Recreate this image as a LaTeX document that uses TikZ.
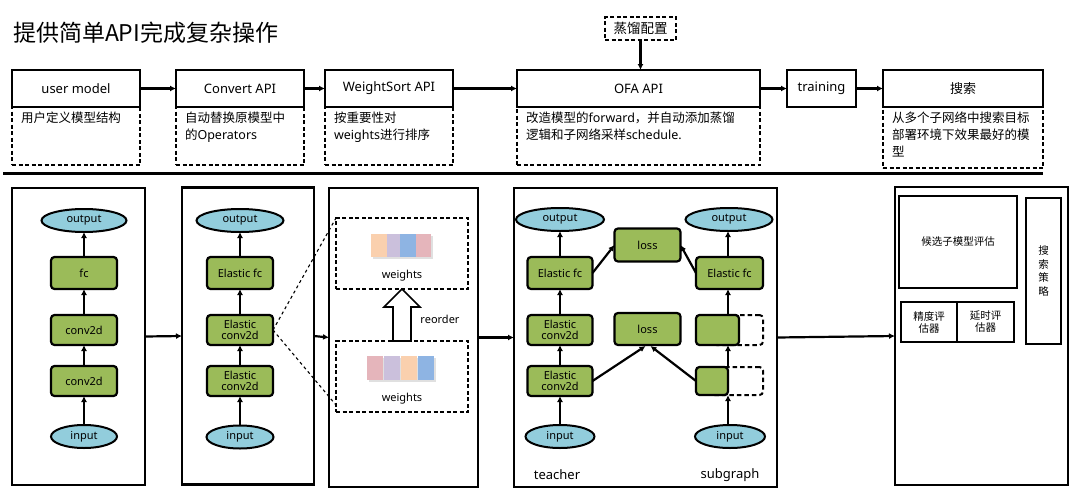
\documentclass[tikz,border=0pt]{standalone}
\usepackage{fontspec}
\setmainfont{Noto Sans}
\newfontfamily\cjk{Noto Sans CJK SC}
\usetikzlibrary{arrows.meta,shapes.geometric,calc}
\definecolor{gfill}{HTML}{9BBB59}
\definecolor{bfill}{HTML}{92CDDC}
\definecolor{sqorange}{HTML}{FAD0AE}
\definecolor{sqpurple}{HTML}{CBC0DC}
\definecolor{sqblue}{HTML}{8EB4E3}
\definecolor{sqpink}{HTML}{E5B5BB}
\begin{document}
\begin{tikzpicture}[x=1pt,y=-1pt,
  every node/.style={inner sep=0pt, outer sep=0pt},
  topbox/.style={draw, line width=2.5pt, fill=white, font=\fontsize{13}{15}\selectfont, minimum height=37pt},
  descbox/.style={draw, line width=1.4pt, dash pattern=on 4pt off 2.5pt},
  desctext/.style={anchor=north west, align=left, font=\fontsize{12.5}{17}\selectfont},
  panel/.style={draw, line width=2.2pt},
  gbox/.style={draw, line width=2.2pt, fill=gfill, rounded corners=3.5pt, font=\fontsize{11}{12}\selectfont, align=center},
  gext/.style={draw, line width=2pt, dash pattern=on 4.5pt off 3pt, rounded corners=3.5pt},
  ell/.style={draw, ellipse, line width=2pt, fill=bfill, font=\fontsize{11}{12}\selectfont, minimum height=23pt},
  arr/.style={-{Latex[length=6pt,width=6pt]}, line width=2.2pt},
  pbox/.style={draw, line width=2.4pt, align=center, font=\fontsize{10.5}{12}\selectfont\cjk},
  lbl/.style={font=\fontsize{13}{15}\selectfont},
  ]
\useasboundingbox (0,0) rectangle (1080,496);

% title
\node[anchor=west, font=\fontsize{23}{25}\selectfont\cjk] (title) at (13,33) {提供简单API完成复杂操作};

% description boxes
\node[descbox, minimum width=128pt, minimum height=58pt] (umd) at (76,136) {};
\node[descbox, minimum width=128pt, minimum height=58pt] (cvd) at (240,136) {};
\node[descbox, minimum width=128pt, minimum height=58pt] (wsd) at (389,136) {};
\node[descbox, minimum width=243pt, minimum height=58pt] (ofad) at (638.5,136) {};
\node[descbox, minimum width=160pt, minimum height=61pt] (ssd) at (963,137.5) {};

\node[desctext] (umt) at (21,112) {\cjk 用户定义模型结构};
\node[desctext] (cvt) at (185,112) {{\cjk 自动替换原模型中}\\{\cjk 的}Operators};
\node[desctext] (wst) at (334,112) {{\cjk 按重要性对}\\weights{\cjk 进行排序}};
\node[desctext] (ofat) at (526,112) {{\cjk 改造模型的}forward{\cjk ，并自动添加蒸馏}\\{\cjk 逻辑和子网络采样}schedule.};
\node[desctext] (sst) at (892,112) {\cjk 从多个子网络中搜索目标\\\cjk 部署环境下效果最好的模\\\cjk 型};

% top boxes
\node[topbox, minimum width=128pt] (um) at (76,88.5) {user model};
\node[topbox, minimum width=128pt] (cv) at (240,88.5) {Convert API};
\node[topbox, minimum width=128pt] (ws) at (389,88.5) {WeightSort API};
\node[topbox, minimum width=243pt] (ofa) at (638.5,88.5) {OFA API};
\node[topbox, minimum width=69pt] (tr) at (821.5,88.5) {training};
\node[topbox, minimum width=160pt] (ss) at (963,88.5) {\cjk 搜索};

\node[descbox, minimum width=71pt, minimum height=23pt, font=\fontsize{13.5}{15}\selectfont\cjk] (zl) at (640.5,28.5) {蒸馏配置};

\draw[arr] (zl.south) -- (zl.south |- ofa.north);
\draw[arr] (um.east) -- (cv.west);
\draw[arr] (cv.east) -- (ws.west);
\draw[arr] (ws.east) -- (ofa.west);
\draw[arr] (ofa.east) -- (tr.west);
\draw[arr] (tr.east) -- (ss.west);

% separator
\draw[line width=3.8pt] (3,173.5) -- (1043,173.5);

% panels
\node[panel, minimum width=133pt, minimum height=297pt] (p1) at (78.5,336.5) {};
\node[panel, minimum width=132pt, minimum height=297pt] (p2) at (248,336) {};
\node[panel, minimum width=149pt, minimum height=299pt] (p3) at (403.5,337.5) {};
\node[panel, minimum width=263pt, minimum height=299pt] (p4) at (645.5,337.5) {};
\node[panel, minimum width=173pt, minimum height=298pt] (p5) at (981.5,336) {};

\draw[arr] (p1.east) -- (p2.west);
\draw[arr] (p2.east) -- (p3.west);
\draw[arr] (p3.east) -- (p4.west);
\draw[arr] (p4.east) -- (p5.west);

% panel 1
\node[ell, minimum width=85pt] (out1) at (84,220.5) {output};
\node[gbox, minimum width=66pt, minimum height=32pt] (fc1) at (84,273) {fc};
\node[gbox, minimum width=66pt, minimum height=30pt] (c1a) at (84,330) {conv2d};
\node[gbox, minimum width=66pt, minimum height=30pt] (c1b) at (84,381) {conv2d};
\node[ell, minimum width=66pt] (in1) at (84,436.5) {input};
\draw[arr] (in1) -- (c1b);
\draw[arr] (c1b) -- (c1a);
\draw[arr] (c1a) -- (fc1);
\draw[arr] (fc1) -- (out1);

% panel 2
\node[ell, minimum width=87pt] (out2) at (240,220.5) {output};
\node[gbox, minimum width=66pt, minimum height=32pt] (efc2) at (240,273) {Elastic fc};
\node[gbox, minimum width=66pt, minimum height=30pt, font=\fontsize{11}{11.5}\selectfont] (ec2a) at (240,330) {Elastic\\conv2d};
\node[gbox, minimum width=66pt, minimum height=30pt, font=\fontsize{11}{11.5}\selectfont] (ec2b) at (240,381) {Elastic\\conv2d};
\node[ell, minimum width=67pt] (in2) at (240,437) {input};
\draw[arr] (in2) -- (ec2b);
\draw[arr] (ec2b) -- (ec2a);
\draw[arr] (ec2a) -- (efc2);
\draw[arr] (efc2) -- (out2);

% panel 3
\node[descbox, minimum width=132pt, minimum height=71pt] (wb1) at (402,253.5) {};
\node[descbox, minimum width=132pt, minimum height=71pt] (wb2) at (402,376.5) {};
\draw[dashed, line width=1.1pt] (ec2a.east) -- (wb1.north west);
\draw[dashed, line width=1.1pt] (ec2a.east) -- ($(wb2.south west)+(0,-7)$);

\fill[black!12] (373,236) rectangle (433,259);
\fill[sqpurple] (385,234) rectangle (402,257);
\fill[sqorange] (371,234) rectangle (387,257);
\fill[sqblue] (400,234) rectangle (416,257);
\fill[sqpink] (416,234) rectangle (431,257);
\node[font=\fontsize{11}{12}\selectfont] (w1) at (402,276) {weights};

\fill[black!12] (369,358) rectangle (436,382);
\fill[sqpink] (367,356) rectangle (383,380);
\fill[sqpurple] (384,356) rectangle (400,380);
\fill[sqorange] (401,356) rectangle (417,380);
\fill[sqblue] (418,356) rectangle (434,380);
\node[font=\fontsize{11}{12}\selectfont] (w2) at (402,399) {weights};

\draw[line width=1.6pt, fill=white, line join=miter]
  ($(wb2.north)+(-9,0)$) -- ($(wb2.north)+(-9,-34)$) -- ($(wb2.north)+(-18,-34)$)
  -- (wb1.south) -- ($(wb2.north)+(18,-34)$) -- ($(wb2.north)+(9,-34)$)
  -- ($(wb2.north)+(9,0)$) -- cycle;
\node[font=\fontsize{11}{12}\selectfont] (reo) at (440,319) {reorder};

% panel 4 teacher
\node[ell, minimum width=88pt] (outT) at (560,219.5) {output};
\node[gbox, minimum width=65pt, minimum height=32pt] (efcT) at (560,273) {Elastic fc};
\node[gbox, minimum width=65pt, minimum height=30pt, font=\fontsize{11}{11.5}\selectfont] (ecTa) at (560,330) {Elastic\\conv2d};
\node[gbox, minimum width=65pt, minimum height=30pt, font=\fontsize{11}{11.5}\selectfont] (ecTb) at (560,381) {Elastic\\conv2d};
\node[ell, minimum width=69pt] (inT) at (560,436.5) {input};
\node[lbl] (tlab) at (557,475) {teacher};
\draw[arr] (inT) -- (ecTb);
\draw[arr] (ecTb) -- (ecTa);
\draw[arr] (ecTa) -- (efcT);
\draw[arr] (efcT) -- (outT);

% losses
\node[gbox, minimum width=66pt, minimum height=33pt] (lossA) at (647.5,245) {loss};
\node[gbox, minimum width=66pt, minimum height=32pt] (lossB) at (647.5,329) {loss};

% panel 4 subgraph
\node[ell, minimum width=87pt] (outS) at (729,219.5) {output};
\node[gbox, minimum width=67pt, minimum height=32pt] (efcS) at (729.5,273) {Elastic fc};
\node[gext, minimum width=50pt, minimum height=30pt] (sAx) at (738,330) {};
\node[gbox, minimum width=43pt, minimum height=30pt] (sA) at (717.5,330) {};
\node[gext, minimum width=55pt, minimum height=28pt] (sBx) at (735.5,381) {};
\node[gbox, minimum width=32pt, minimum height=28pt] (sB) at (712,381) {};
\node[ell, minimum width=70pt] (inS) at (730,436.5) {input};
\node[lbl] (slab) at (730,475) {subgraph};

\draw[arr] (inS.north -| sB.east) -- (sB.south east);
\draw[arr] (sB.north east) -- (sB.north east |- sA.south);
\draw[arr] (sB.north east |- sA.north) -- (sB.north east |- efcS.south);
\draw[arr] (efcS.north -| sB.north east) -- (sB.north east |- outS.south);

\draw[arr] (efcT.east) -- (lossA.west);
\draw[arr] (efcS.west) -- (lossA.east);
\draw[arr] (ecTb.east) -- ($(lossB.south)+(-2,1)$);
\draw[arr] (sB.west) -- ($(lossB.south)+(3,1)$);

% panel 5
\node[pbox, minimum width=118pt, minimum height=92pt] (cand) at (958,242) {候选子模型评估};
\node[pbox, minimum width=56pt, minimum height=40pt] (acc) at (929,322) {精度评\\估器};
\node[pbox, minimum width=57pt, minimum height=40pt] (lat) at (985.5,322) {延时评\\估器};
\node[pbox, minimum width=35pt, minimum height=146pt, font=\fontsize{10.5}{13.5}\selectfont\cjk] (strat) at (1043.5,271) {搜\\索\\策\\略};

\end{tikzpicture}
\end{document}
